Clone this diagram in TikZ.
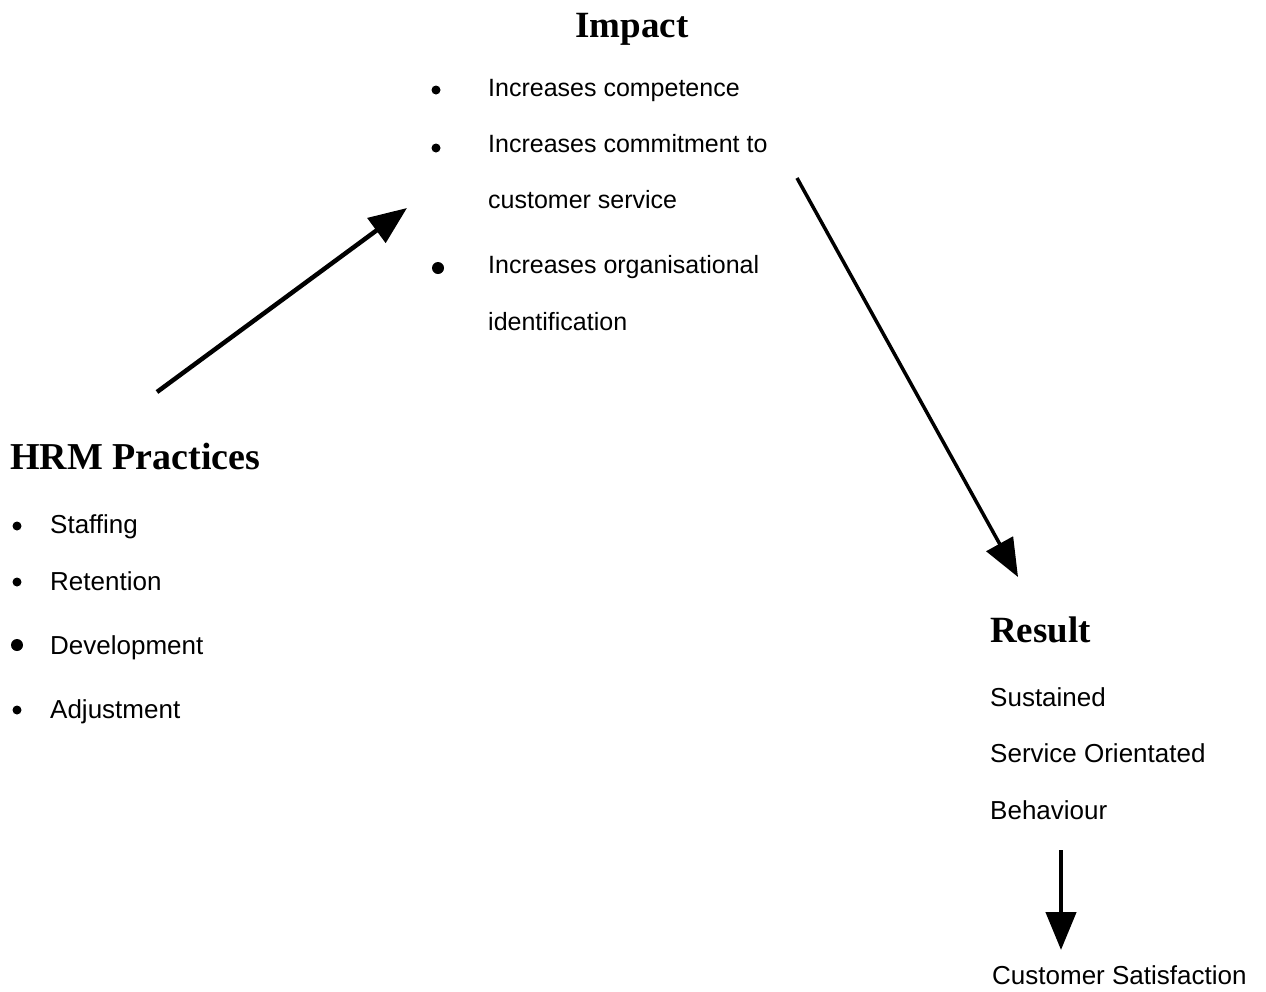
\documentclass[tikz,border=0pt]{standalone}
\usepackage{fontspec}
\setmainfont{Liberation Sans}
\newfontfamily\titlefont{Liberation Serif}
\usetikzlibrary{arrows.meta}
\begin{document}
\begin{tikzpicture}[x=1pt,y=-1pt,
  heading/.style={inner sep=0pt,font=\titlefont\bfseries\fontsize{37}{40}\selectfont},
  item/.style={anchor=base west,inner sep=0pt,font=\fontsize{26}{30}\selectfont},
  impitem/.style={anchor=base west,inner sep=0pt,font=\fontsize{25}{30}\selectfont},
  dot/.style={circle,fill=black,inner sep=0pt,minimum size=#1},
  flow/.style={-{Triangle[length=38pt,width=30pt]},line width=#1}]
\useasboundingbox (0,0) rectangle (1266,991);
% Impact
\node[heading,anchor=base] (impact) at (632,37) {Impact};
\node[dot=9pt] (b1) at (436,90) {};
\node[dot=9pt] (b2) at (436,148) {};
\node[dot=12pt] (b3) at (438,268) {};
\node[impitem] (i1) at (488,96) {Increases competence};
\node[impitem] (i2) at (488,152) {Increases commitment to};
\node[impitem] (i3) at (488,208) {customer service};
\node[impitem] (i4) at (488,273) {Increases organisational};
\node[impitem] (i5) at (488,330) {identification};
% HRM
\node[heading,anchor=base west,font=\titlefont\bfseries\fontsize{38}{40}\selectfont] (hrm) at (10,469) {HRM Practices};
\node[dot=9pt] (h1) at (17,526) {};
\node[dot=9pt] (h2) at (17,582) {};
\node[dot=12pt] (h3) at (17,645) {};
\node[dot=9pt] (h4) at (17,710) {};
\node[item] (s1) at (50,533) {Staffing};
\node[item] (s2) at (50,590) {Retention};
\node[item] (s3) at (50,654) {Development};
\node[item] (s4) at (50,718) {Adjustment};
% Result
\node[heading,anchor=base west] (result) at (990,642) {Result};
\node[item] (r1) at (990,706) {Sustained};
\node[item] (r2) at (990,762) {Service Orientated};
\node[item] (r3) at (990,819) {Behaviour};
\node[item] (cs) at (992,984) {Customer Satisfaction};
% arrows
\coordinate (a1s) at (157,392);
\coordinate (a1e) at (407,208);
\coordinate (a2s) at (797,178);
\coordinate (a2e) at (1018,577);
\coordinate (a3s) at (1061,850);
\coordinate (a3e) at (1061,950);
\draw[flow=4.5pt] (a1s) -- (a1e);
\draw[flow=3.5pt] (a2s) -- (a2e);
\draw[flow=4.5pt] (a3s) -- (a3e);
\end{tikzpicture}
\end{document}
